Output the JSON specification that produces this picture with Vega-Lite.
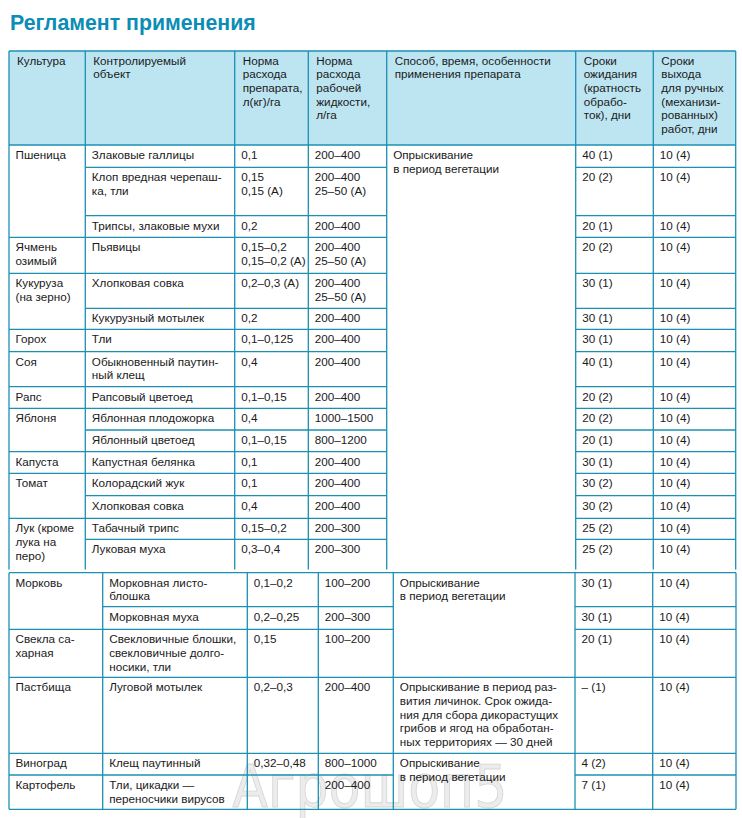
{
  "$schema": "https://vega.github.io/schema/vega-lite/v6.json",
  "width": 742,
  "height": 778,
  "autosize": {"type": "none"},
  "padding": {"top": 40, "left": 0, "right": 0, "bottom": 0},
  "background": "#ffffff",
  "config": {"view": {"stroke": null}},
  "title": {"text": "Регламент применения", "anchor": "start", "frame": "group", "fontSize": 21.3, "font": "Liberation Sans", "fontWeight": "bold", "color": "#0b8db5", "offset": 6, "dx": 10},
  "datasets": {
    "header": [{"a": 0, "b": 7, "r1": 0, "r2": 1}],
    "mark": [{"c": 12, "r": 22, "t": "Агрошоп5"}],
    "hlines": [
      {"r": 0, "a": 0, "b": 7}, {"r": 1, "a": 0, "b": 7},
      {"r": 2, "a": 1, "b": 4}, {"r": 2, "a": 5, "b": 7},
      {"r": 3, "a": 1, "b": 4}, {"r": 3, "a": 5, "b": 7},
      {"r": 4, "a": 0, "b": 4}, {"r": 4, "a": 5, "b": 7},
      {"r": 5, "a": 0, "b": 4}, {"r": 5, "a": 5, "b": 7},
      {"r": 6, "a": 1, "b": 4}, {"r": 6, "a": 5, "b": 7},
      {"r": 7, "a": 0, "b": 4}, {"r": 7, "a": 5, "b": 7},
      {"r": 8, "a": 0, "b": 4}, {"r": 8, "a": 5, "b": 7},
      {"r": 9, "a": 0, "b": 4}, {"r": 9, "a": 5, "b": 7},
      {"r": 10, "a": 0, "b": 4}, {"r": 10, "a": 5, "b": 7},
      {"r": 11, "a": 1, "b": 4}, {"r": 11, "a": 5, "b": 7},
      {"r": 12, "a": 0, "b": 4}, {"r": 12, "a": 5, "b": 7},
      {"r": 13, "a": 0, "b": 4}, {"r": 13, "a": 5, "b": 7},
      {"r": 14, "a": 1, "b": 4}, {"r": 14, "a": 5, "b": 7},
      {"r": 15, "a": 0, "b": 4}, {"r": 15, "a": 5, "b": 7},
      {"r": 16, "a": 1, "b": 4}, {"r": 16, "a": 5, "b": 7},
      {"r": 18, "a": 10, "b": 17},
      {"r": 19, "a": 11, "b": 14}, {"r": 19, "a": 15, "b": 17},
      {"r": 20, "a": 10, "b": 14}, {"r": 20, "a": 15, "b": 17},
      {"r": 21, "a": 10, "b": 17},
      {"r": 22, "a": 10, "b": 17},
      {"r": 23, "a": 10, "b": 14}, {"r": 23, "a": 15, "b": 17},
      {"r": 24, "a": 10, "b": 17}
    ],
    "vlines": [
      {"c": 0, "r1": 0, "r2": 17}, {"c": 1, "r1": 0, "r2": 17}, {"c": 2, "r1": 0, "r2": 17}, {"c": 3, "r1": 0, "r2": 17},
      {"c": 4, "r1": 0, "r2": 17}, {"c": 5, "r1": 0, "r2": 17}, {"c": 6, "r1": 0, "r2": 17}, {"c": 7, "r1": 0, "r2": 17},
      {"c": 10, "r1": 18, "r2": 24}, {"c": 11, "r1": 18, "r2": 24}, {"c": 12, "r1": 18, "r2": 24}, {"c": 13, "r1": 18, "r2": 24},
      {"c": 14, "r1": 18, "r2": 24}, {"c": 15, "r1": 18, "r2": 24}, {"c": 16, "r1": 18, "r2": 24}, {"c": 17, "r1": 18, "r2": 24}
    ],
    "head": [
      {"c": 0, "r": 0, "t": "Культура"},
      {"c": 1, "r": 0, "t": "Контролируемый\nобъект"},
      {"c": 2, "r": 0, "t": "Норма\nрасхода\nпрепарата,\nл(кг)/га"},
      {"c": 3, "r": 0, "t": "Норма\nрасхода\nрабочей\nжидкости,\nл/га"},
      {"c": 4, "r": 0, "t": "Способ, время, особенности\nприменения препарата"},
      {"c": 5, "r": 0, "t": "Сроки\nожидания\n(кратность\nобрабо-\nток), дни"},
      {"c": 6, "r": 0, "t": "Сроки\nвыхода\nдля ручных\n(механизи-\nрованных)\nработ, дни"}
    ],
    "cells": [
      {"c": 0, "r": 1, "t": "Пшеница"}, {"c": 1, "r": 1, "t": "Злаковые галлицы"}, {"c": 2, "r": 1, "t": "0,1"}, {"c": 3, "r": 1, "t": "200–400"}, {"c": 4, "r": 1, "t": "Опрыскивание\nв период вегетации"}, {"c": 5, "r": 1, "t": "40 (1)"}, {"c": 6, "r": 1, "t": "10 (4)"},
      {"c": 1, "r": 2, "t": "Клоп вредная черепаш-\nка, тли"}, {"c": 2, "r": 2, "t": "0,15\n0,15 (А)"}, {"c": 3, "r": 2, "t": "200–400\n25–50 (А)"}, {"c": 5, "r": 2, "t": "20 (2)"}, {"c": 6, "r": 2, "t": "10 (4)"},
      {"c": 1, "r": 3, "t": "Трипсы, злаковые мухи"}, {"c": 2, "r": 3, "t": "0,2"}, {"c": 3, "r": 3, "t": "200–400"}, {"c": 5, "r": 3, "t": "20 (1)"}, {"c": 6, "r": 3, "t": "10 (4)"},
      {"c": 0, "r": 4, "t": "Ячмень\nозимый"}, {"c": 1, "r": 4, "t": "Пьявицы"}, {"c": 2, "r": 4, "t": "0,15–0,2\n0,15–0,2 (А)"}, {"c": 3, "r": 4, "t": "200–400\n25–50 (А)"}, {"c": 5, "r": 4, "t": "20 (2)"}, {"c": 6, "r": 4, "t": "10 (4)"},
      {"c": 0, "r": 5, "t": "Кукуруза\n(на зерно)"}, {"c": 1, "r": 5, "t": "Хлопковая совка"}, {"c": 2, "r": 5, "t": "0,2–0,3 (А)"}, {"c": 3, "r": 5, "t": "200–400\n25–50 (А)"}, {"c": 5, "r": 5, "t": "30 (1)"}, {"c": 6, "r": 5, "t": "10 (4)"},
      {"c": 1, "r": 6, "t": "Кукурузный мотылек"}, {"c": 2, "r": 6, "t": "0,2"}, {"c": 3, "r": 6, "t": "200–400"}, {"c": 5, "r": 6, "t": "30 (1)"}, {"c": 6, "r": 6, "t": "10 (4)"},
      {"c": 0, "r": 7, "t": "Горох"}, {"c": 1, "r": 7, "t": "Тли"}, {"c": 2, "r": 7, "t": "0,1–0,125"}, {"c": 3, "r": 7, "t": "200–400"}, {"c": 5, "r": 7, "t": "30 (1)"}, {"c": 6, "r": 7, "t": "10 (4)"},
      {"c": 0, "r": 8, "t": "Соя"}, {"c": 1, "r": 8, "t": "Обыкновенный паутин-\nный клещ"}, {"c": 2, "r": 8, "t": "0,4"}, {"c": 3, "r": 8, "t": "200–400"}, {"c": 5, "r": 8, "t": "40 (1)"}, {"c": 6, "r": 8, "t": "10 (4)"},
      {"c": 0, "r": 9, "t": "Рапс"}, {"c": 1, "r": 9, "t": "Рапсовый цветоед"}, {"c": 2, "r": 9, "t": "0,1–0,15"}, {"c": 3, "r": 9, "t": "200–400"}, {"c": 5, "r": 9, "t": "20 (2)"}, {"c": 6, "r": 9, "t": "10 (4)"},
      {"c": 0, "r": 10, "t": "Яблоня"}, {"c": 1, "r": 10, "t": "Яблонная плодожорка"}, {"c": 2, "r": 10, "t": "0,4"}, {"c": 3, "r": 10, "t": "1000–1500"}, {"c": 5, "r": 10, "t": "20 (2)"}, {"c": 6, "r": 10, "t": "10 (4)"},
      {"c": 1, "r": 11, "t": "Яблонный цветоед"}, {"c": 2, "r": 11, "t": "0,1–0,15"}, {"c": 3, "r": 11, "t": "800–1200"}, {"c": 5, "r": 11, "t": "20 (1)"}, {"c": 6, "r": 11, "t": "10 (4)"},
      {"c": 0, "r": 12, "t": "Капуста"}, {"c": 1, "r": 12, "t": "Капустная белянка"}, {"c": 2, "r": 12, "t": "0,1"}, {"c": 3, "r": 12, "t": "200–400"}, {"c": 5, "r": 12, "t": "30 (1)"}, {"c": 6, "r": 12, "t": "10 (4)"},
      {"c": 0, "r": 13, "t": "Томат"}, {"c": 1, "r": 13, "t": "Колорадский жук"}, {"c": 2, "r": 13, "t": "0,1"}, {"c": 3, "r": 13, "t": "200–400"}, {"c": 5, "r": 13, "t": "30 (2)"}, {"c": 6, "r": 13, "t": "10 (4)"},
      {"c": 1, "r": 14, "t": "Хлопковая совка"}, {"c": 2, "r": 14, "t": "0,4"}, {"c": 3, "r": 14, "t": "200–400"}, {"c": 5, "r": 14, "t": "30 (2)"}, {"c": 6, "r": 14, "t": "10 (4)"},
      {"c": 0, "r": 15, "t": "Лук (кроме\nлука на\nперо)"}, {"c": 1, "r": 15, "t": "Табачный трипс"}, {"c": 2, "r": 15, "t": "0,15–0,2"}, {"c": 3, "r": 15, "t": "200–300"}, {"c": 5, "r": 15, "t": "25 (2)"}, {"c": 6, "r": 15, "t": "10 (4)"},
      {"c": 1, "r": 16, "t": "Луковая муха"}, {"c": 2, "r": 16, "t": "0,3–0,4"}, {"c": 3, "r": 16, "t": "200–300"}, {"c": 5, "r": 16, "t": "25 (2)"}, {"c": 6, "r": 16, "t": "10 (4)"},
      {"c": 10, "r": 18, "t": "Морковь"}, {"c": 11, "r": 18, "t": "Морковная листо-\nблошка"}, {"c": 12, "r": 18, "t": "0,1–0,2"}, {"c": 13, "r": 18, "t": "100–200"}, {"c": 14, "r": 18, "t": "Опрыскивание\nв период вегетации"}, {"c": 15, "r": 18, "t": "30 (1)"}, {"c": 16, "r": 18, "t": "10 (4)"},
      {"c": 11, "r": 19, "t": "Морковная муха"}, {"c": 12, "r": 19, "t": "0,2–0,25"}, {"c": 13, "r": 19, "t": "200–300"}, {"c": 15, "r": 19, "t": "30 (1)"}, {"c": 16, "r": 19, "t": "10 (4)"},
      {"c": 10, "r": 20, "t": "Свекла са-\nхарная"}, {"c": 11, "r": 20, "t": "Свекловичные блошки,\nсвекловичные долго-\nносики, тли"}, {"c": 12, "r": 20, "t": "0,15"}, {"c": 13, "r": 20, "t": "100–200"}, {"c": 15, "r": 20, "t": "20 (1)"}, {"c": 16, "r": 20, "t": "10 (4)"},
      {"c": 10, "r": 21, "t": "Пастбища"}, {"c": 11, "r": 21, "t": "Луговой мотылек"}, {"c": 12, "r": 21, "t": "0,2–0,3"}, {"c": 13, "r": 21, "t": "200–400"}, {"c": 14, "r": 21, "t": "Опрыскивание в период раз-\nвития личинок. Срок ожида-\nния для сбора дикорастущих\nгрибов и ягод на обработан-\nных территориях — 30 дней"}, {"c": 15, "r": 21, "t": "– (1)"}, {"c": 16, "r": 21, "t": "10 (4)"},
      {"c": 10, "r": 22, "t": "Виноград"}, {"c": 11, "r": 22, "t": "Клещ паутинный"}, {"c": 12, "r": 22, "t": "0,32–0,48"}, {"c": 13, "r": 22, "t": "800–1000"}, {"c": 14, "r": 22, "t": "Опрыскивание\nв период вегетации"}, {"c": 15, "r": 22, "t": "4 (2)"}, {"c": 16, "r": 22, "t": "10 (4)"},
      {"c": 10, "r": 23, "t": "Картофель"}, {"c": 11, "r": 23, "t": "Тли, цикадки —\nпереносчики вирусов"}, {"c": 13, "r": 23, "t": "200–400"}, {"c": 15, "r": 23, "t": "7 (1)"}, {"c": 16, "r": 23, "t": "10 (4)"}
    ]
  },
  "layer": [
    {
      "data": {"name": "header"},
      "mark": {"type": "rect", "color": "#bde5f1"},
      "encoding": {
        "x": {"field": "a", "type": "quantitative", "axis": null, "scale": {"domain": [0,1,2,3,4,5,6,7,10,11,12,13,14,15,16,17], "range": [9,85.3,234.7,308.3,386.7,575.7,653.3,735.7,9,102.7,247.3,318.3,393.3,575,652.7,736], "zero": false, "nice": false}},
        "x2": {"field": "b"},
        "y": {"field": "r1", "type": "quantitative", "axis": null, "scale": {"domain": [0,1,2,3,4,5,6,7,8,9,10,11,12,13,14,15,16,17,18,19,20,21,22,23,24], "range": [11,105,127.3,175.7,197.3,233.3,268.3,289.3,311.7,346.7,368.3,390,411.7,433.3,455.7,478.3,499.3,529.5,532.7,566.7,589.3,637.3,713.3,735,769.3], "zero": false, "nice": false}},
        "y2": {"field": "r2"}
      }
    },
    {
      "data": {"name": "mark"},
      "mark": {"type": "text", "align": "left", "baseline": "top", "dx": -15, "dy": 8, "font": "Liberation Sans Narrow, DejaVu Sans Condensed, Liberation Sans", "fontSize": 58, "color": "#ececec", "stroke": "#d6d6d6", "strokeWidth": 0.8},
      "encoding": {
        "x": {"field": "c", "type": "quantitative"},
        "y": {"field": "r", "type": "quantitative"},
        "text": {"field": "t"}
      }
    },
    {
      "data": {"name": "hlines"},
      "mark": {"type": "rule", "color": "#1b90b2", "strokeWidth": 1.3},
      "encoding": {
        "x": {"field": "a", "type": "quantitative"},
        "x2": {"field": "b"},
        "y": {"field": "r", "type": "quantitative"}
      }
    },
    {
      "data": {"name": "vlines"},
      "mark": {"type": "rule", "color": "#1b90b2", "strokeWidth": 1.3},
      "encoding": {
        "x": {"field": "c", "type": "quantitative"},
        "y": {"field": "r1", "type": "quantitative"},
        "y2": {"field": "r2"}
      }
    },
    {
      "data": {"name": "head"},
      "mark": {"type": "text", "align": "left", "baseline": "top", "dx": 8, "dy": 4.5, "lineBreak": "\n", "lineHeight": 13.7, "font": "Liberation Sans", "fontSize": 11.7, "color": "#1a1a1a"},
      "encoding": {
        "x": {"field": "c", "type": "quantitative"},
        "y": {"field": "r", "type": "quantitative"},
        "text": {"field": "t"}
      }
    },
    {
      "data": {"name": "cells"},
      "mark": {"type": "text", "align": "left", "baseline": "top", "dx": 6.5, "dy": 5, "lineBreak": "\n", "lineHeight": 13.7, "font": "Liberation Sans", "fontSize": 11.7, "color": "#1a1a1a"},
      "encoding": {
        "x": {"field": "c", "type": "quantitative"},
        "y": {"field": "r", "type": "quantitative"},
        "text": {"field": "t"}
      }
    }
  ]
}
